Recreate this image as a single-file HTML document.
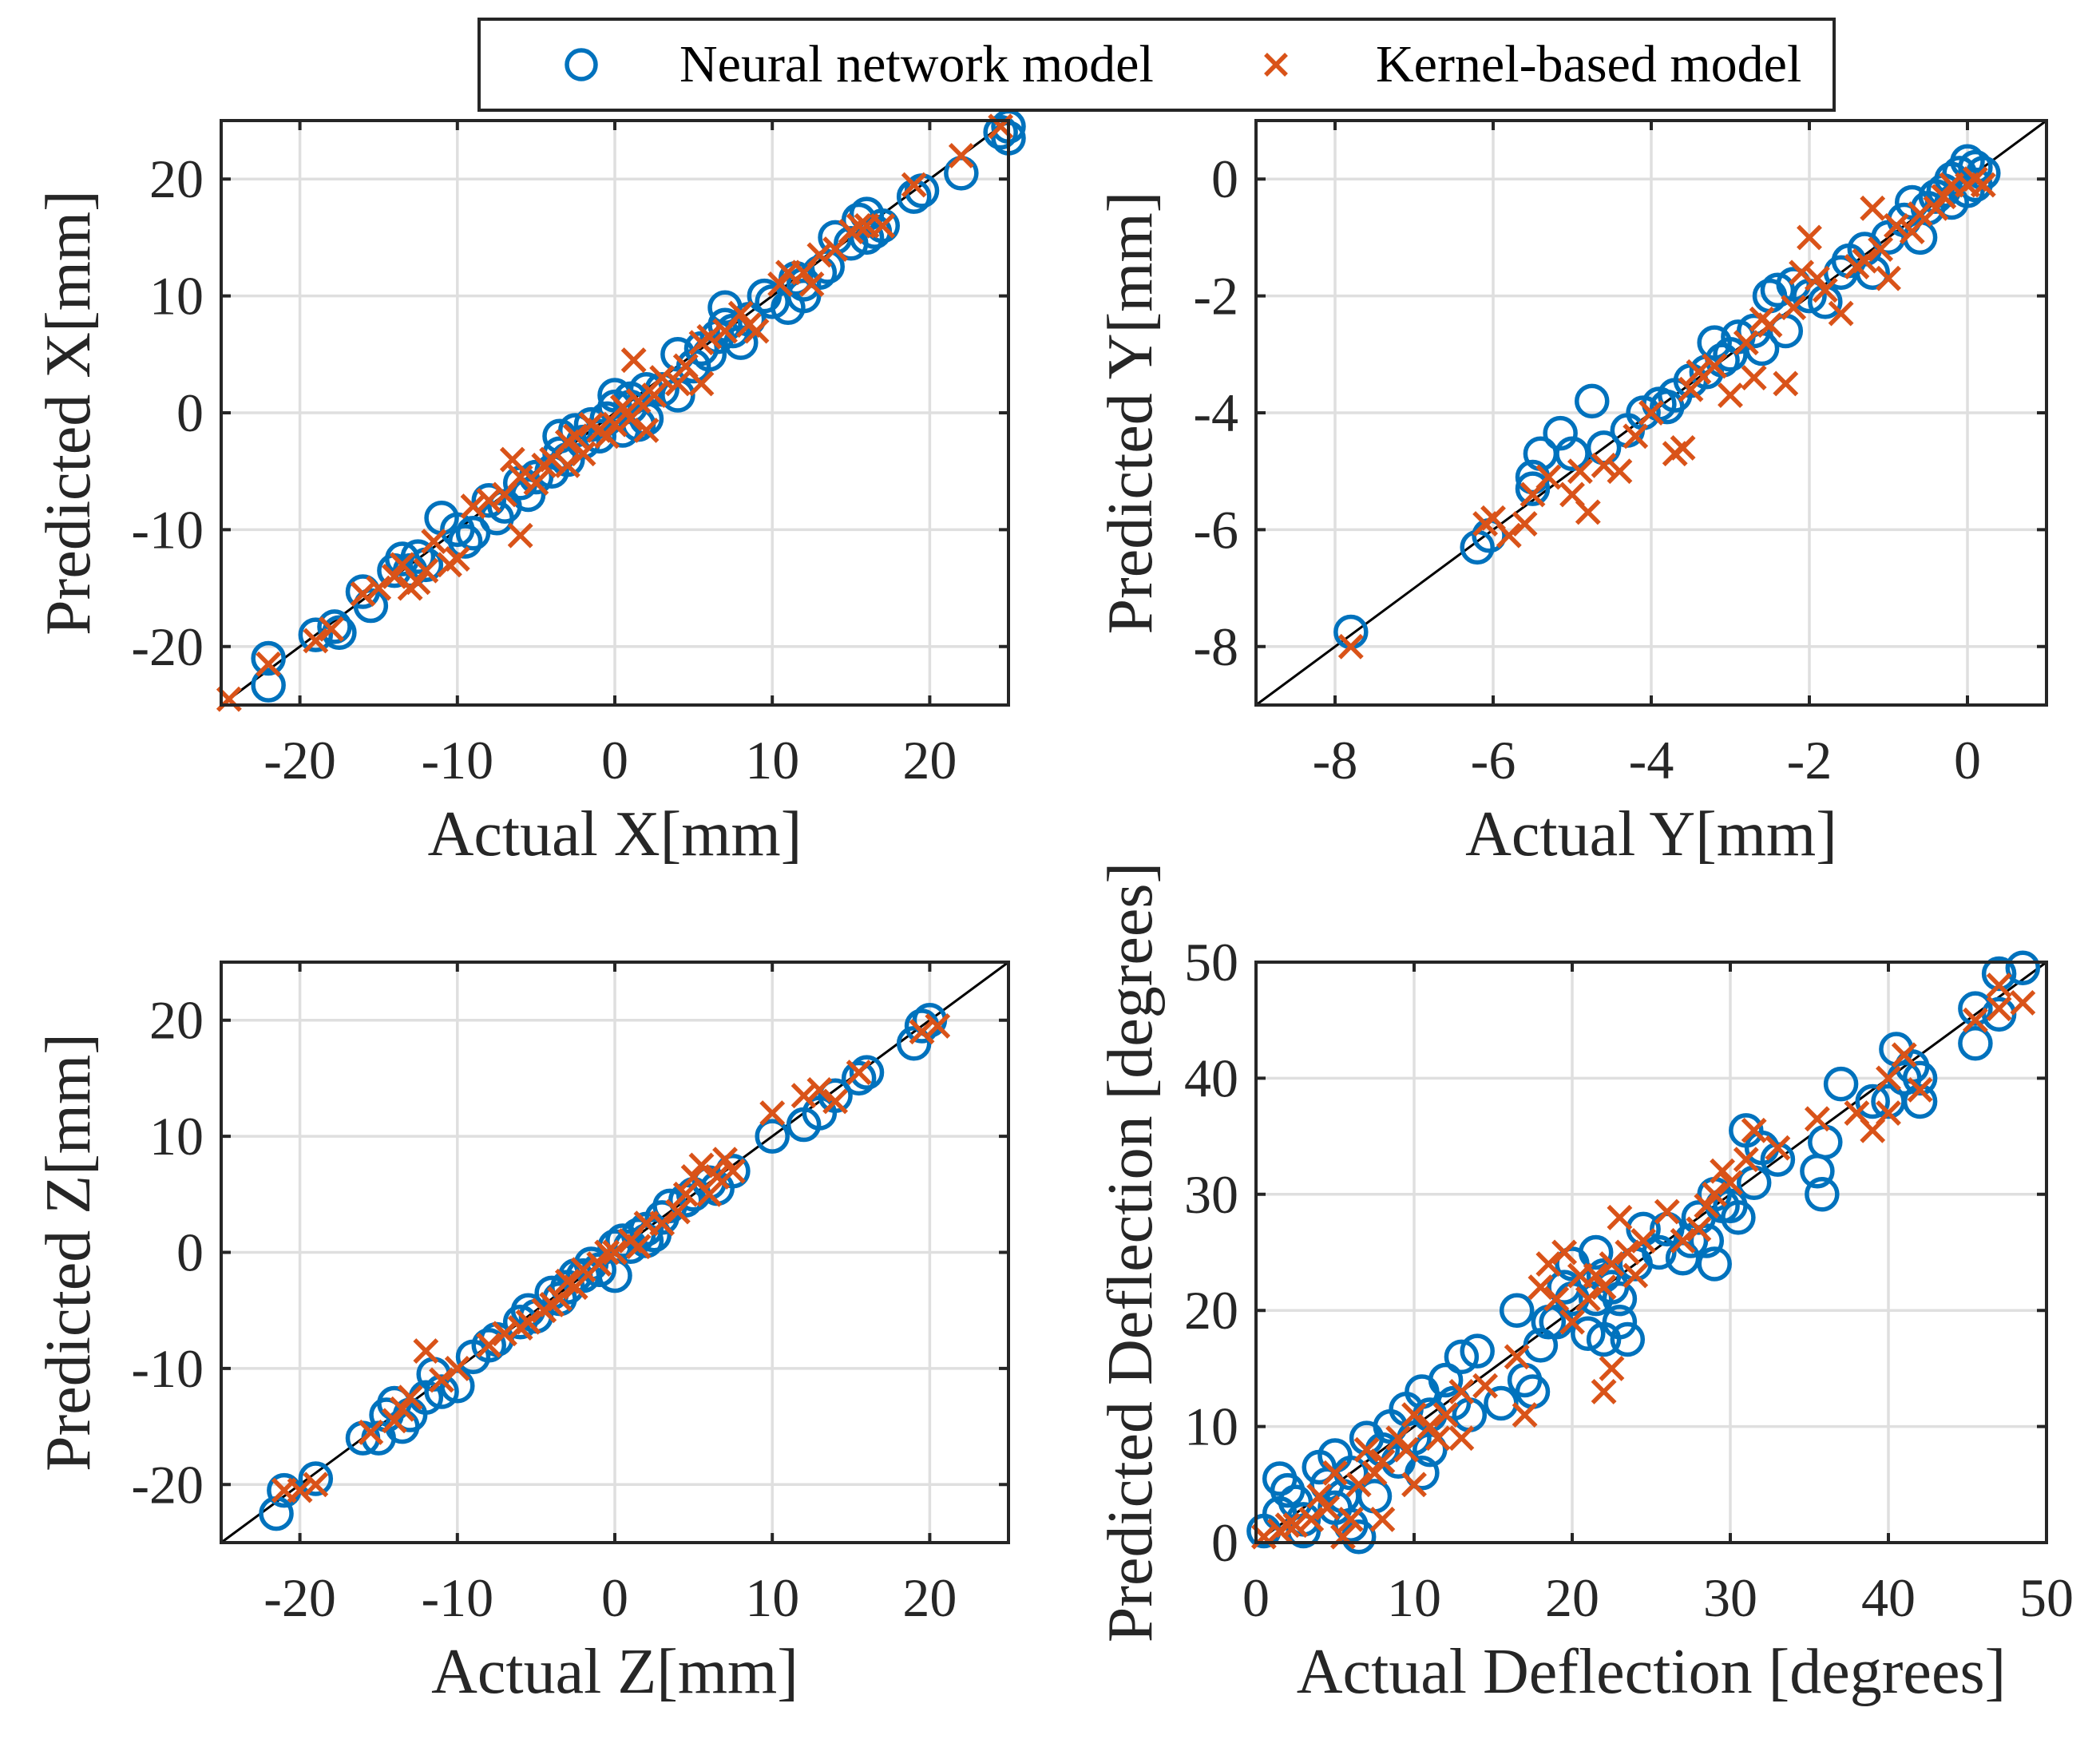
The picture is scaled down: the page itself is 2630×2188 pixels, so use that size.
<!DOCTYPE html>
<html><head><meta charset="utf-8"><style>
html,body{margin:0;padding:0;background:#fff;}
svg{display:block;font-family:"Liberation Serif",serif;}
</style></head><body>
<svg id="fig" width="2630" height="2188" viewBox="0 0 2630 2188" xmlns="http://www.w3.org/2000/svg">
<g id="legend">
<rect x="600" y="24" width="1697" height="114" fill="#fff" stroke="#262626" stroke-width="4"/>
<circle cx="728" cy="81" r="18" fill="none" stroke="#0072BD" stroke-width="5.5"/>
<text x="851" y="102" font-size="66" fill="#000">Neural network model</text>
<g stroke="#D95319" stroke-width="5.5"><line x1="1585" y1="68" x2="1611" y2="94"/><line x1="1585" y1="94" x2="1611" y2="68"/></g>
<text x="1723" y="102" font-size="66" fill="#000">Kernel-based model</text>
</g>
</svg>
<script>
// Panel X
const xNN=[[-22,-21],[-22,-23.3],[-19,-19],[-17.8,-18.3],[-17.5,-18.8],[-16,-15.3],[-15.5,-16.5],[-14,-13.5],[-13.5,-12.5],[-13,-13.5],[-12.5,-12.3],[-12,-13],[-11,-9],[-10,-10],[-9.5,-11],[-9,-10.3],[-7.5,-9],[-8,-7.5],[-7,-8],[-6,-6],[-5.5,-7],[-5,-5.5],[-4,-5],[-3.5,-3.5],[-3.5,-2],[-3,-4],[-2.5,-1.5],[-2,-2.5],[-1.5,-1],[-1,-2],[-0.5,-0.5],[0,0.5],[0,1.5],[0.5,-1.5],[1,0.5],[1.5,-1],[1,1.2],[2,2],[2,-0.5],[3,2],[4,1.5],[4,5],[5,4],[5.5,5.5],[6,5],[6.5,6.5],[7,7.5],[7,9],[7.5,7],[8,6],[8.5,8],[9.5,10],[10,9.5],[11,9],[11.5,11.5],[12,11],[12,10],[13,12],[13.5,12.5],[14,15],[15,14.5],[15.5,16.5],[16,17],[16.5,15.5],[17,16],[16,15],[19,18.5],[19.5,19],[22,20.5],[24.5,24],[25,24.5],[25,23.5]];
const xKB=[[-24.5,-24.5],[-22,-21.5],[-19,-19.5],[-18,-18.5],[-16,-15.5],[-15,-15],[-14,-14],[-13,-15],[-13.5,-13],[-12.5,-14.5],[-12,-13.5],[-11.5,-11],[-10.5,-13],[-10,-12.5],[-9,-8],[-8,-7.5],[-7,-7],[-6,-10.5],[-6.5,-4],[-6,-5.5],[-5,-6],[-4.5,-4.5],[-4,-4],[-3,-4.5],[-3,-2.5],[-2.5,-2],[-2,-3.5],[-1.5,-1],[-1,-1.5],[-0.5,-2],[0,-1],[0.5,0.5],[1,-0.5],[1.2,4.5],[1.5,1],[2,-1.5],[2.5,1.5],[3,3],[4,2.5],[4.5,4],[5.5,2.5],[5.5,6],[6,6.5],[7,7],[8,8.5],[8.5,7.5],[9,7],[10.5,11],[11,12],[12,12],[12.5,11],[13,13.5],[14,14],[15,15.5],[15.5,16],[16,16],[17,16],[19,19.5],[22,22],[24.5,24.5]];
const xTicks=[-20,-10,0,10,20];
// Panel Y
const yNN=[[-7.8,-7.75],[-6.2,-6.3],[-6.05,-6.1],[-5.5,-5.3],[-5.5,-5.1],[-5.4,-4.7],[-5.15,-4.35],[-5.0,-4.7],[-4.75,-3.8],[-4.6,-4.6],[-4.3,-4.3],[-4.1,-4.0],[-3.9,-3.85],[-3.7,-3.7],[-3.5,-3.45],[-3.3,-3.3],[-3.2,-2.8],[-3.1,-3.1],[-3.0,-3.0],[-2.9,-2.7],[-2.7,-2.6],[-2.5,-2.0],[-2.4,-1.9],[-2.2,-1.8],[-2.0,-2.0],[-1.8,-2.1],[-1.6,-1.6],[-1.5,-1.4],[-1.3,-1.2],[-1.2,-1.6],[-1.0,-1.0],[-0.8,-0.7],[-0.6,-1.0],[-0.5,-0.5],[-0.4,-0.3],[-0.3,-0.2],[-0.2,0],[-0.1,0.1],[0,0.3],[0.1,0.2],[0.1,-0.1],[0.2,0.1],[0,-0.2],[-0.2,-0.4],[-2.3,-2.6],[-2.6,-2.9],[-3.8,-3.9],[-0.7,-0.4]];
const yKB=[[-7.8,-8.0],[-6.1,-5.9],[-6.0,-5.8],[-5.8,-6.1],[-5.6,-5.9],[-5.5,-5.4],[-5.3,-5.1],[-5.0,-5.4],[-4.8,-5.7],[-4.6,-4.9],[-4.4,-5.0],[-4.2,-4.4],[-4.0,-4.0],[-3.7,-4.7],[-3.6,-4.6],[-3.5,-3.6],[-3.2,-3.2],[-3.0,-3.7],[-2.7,-3.4],[-2.3,-3.5],[-2.5,-2.5],[-2.2,-2.2],[-2.1,-1.6],[-2.0,-1.0],[-1.8,-1.9],[-1.6,-2.3],[-1.4,-1.5],[-1.3,-1.4],[-1.1,-1.2],[-1.0,-1.7],[-0.9,-0.8],[-0.7,-0.9],[-0.6,-0.6],[-0.4,-0.5],[-0.3,-0.3],[-0.2,-0.1],[0,-0.1],[0.1,0],[0.2,-0.1],[-2.8,-2.8],[-3.4,-3.3],[-4.9,-5.0],[-1.2,-0.5],[-2.6,-2.4],[-1.9,-1.7]];
const yTicks=[-8,-6,-4,-2,0];
// Panel Z
const zNN=[[-21.5,-22.5],[-21,-20.5],[-19,-19.5],[-16,-16],[-15,-16],[-14.5,-14],[-14,-13],[-13.5,-15],[-13,-14],[-12,-12.5],[-11.5,-10.5],[-11,-12],[-10,-11.5],[-9,-9],[-8,-8],[-7.5,-7.5],[-6,-6],[-5.5,-5],[-5,-5.5],[-4,-3.5],[-3.5,-4],[-3,-3],[-2,-2],[-1.5,-1],[-1,-1.5],[0,-2],[0,0.5],[0.5,1],[1,0.5],[1.5,1.5],[2,2],[2.5,1.5],[3,3],[3.5,4],[4.5,4.5],[5,5],[6,6],[6.5,5.5],[7.5,7],[10,10],[12,11],[13,12],[14,13.5],[15.5,15],[16,15.5],[19,18],[19.5,19.5],[20,20],[-2.5,-2],[2,1]];
const zKB=[[-21,-20.5],[-20,-20.5],[-19,-20],[-15.5,-15.5],[-14,-14.5],[-13.5,-13.5],[-13,-12.5],[-12,-8.5],[-11,-11],[-10,-10],[-8,-8],[-7,-7],[-6,-6.5],[-5.5,-6],[-4.5,-5],[-4,-4.5],[-3.5,-4],[-3,-2.5],[-2.5,-3],[-2,-1.5],[-1,-1],[-0.5,0],[0,0],[1,1],[1.5,0.5],[2,2.5],[3,2.5],[4,3.5],[4.5,5],[5,6.5],[6,5],[6.5,6.5],[7,8],[7.5,7],[10,12],[12,13.5],[13,14],[14,13],[15.5,15.5],[19.5,19],[20.5,19.5],[5.5,7.5]];
const zTicks=[-20,-10,0,10,20];
// Panel Deflection
const dNN=[[0.5,1],[1.5,5.5],[1.5,2.5],[2,4.5],[2.5,3.5],[3,1],[3,2],[4,6.5],[4.5,5],[5,7.5],[5,3],[5.5,4],[6,6],[6.5,0.5],[6,1.5],[7,9],[7.5,4],[8,8],[8.5,10],[9,7],[9.5,11.5],[10,9],[10.5,13],[10.5,6],[11,8],[11,11],[12,14],[12.5,12],[13,16],[13.5,11],[14,16.5],[15.5,12],[16.5,20],[17,14],[17.5,13],[18,17],[18.5,19],[19,19],[19.5,22],[20,21],[20,24],[21,18],[21.5,25],[21.5,21],[22,17.5],[22,23],[22.5,22],[23,21],[23,19],[23.5,17.5],[24,24],[24.5,27],[25.5,25],[26,27],[27,24.5],[27.5,26],[28,28],[28.5,26],[29,24],[29,30],[29.5,29],[30,29],[30.5,28],[31,35.5],[31.5,31],[32,34],[33,33],[35.5,32],[35.8,30],[36,34.5],[37,39.5],[39,38],[40,38],[40.5,42.5],[41,40],[41.5,41],[42,38],[42,40],[45.5,46],[45.5,43],[47,49],[48.5,49.5],[47,45.5]];
const dKB=[[0.5,0.5],[1.5,1],[2,1.5],[2.5,1.5],[3.5,2],[4,4],[4.5,3],[5,6],[5.5,0.5],[6,2],[6.5,5],[7,8],[7.5,6],[8,2],[8,7],[9,9],[9.5,8],[10,5],[10,11],[11,10],[11.5,9],[12,11],[13,9],[13,13],[14.5,13.5],[16.5,16],[17,11],[18,22],[18.5,24],[19,21],[19.5,25],[20,19],[20.5,23],[21,21],[21.5,23],[22,13],[22,22],[22.5,15],[22.5,24],[23,28],[23.5,25],[24,23],[24.5,26],[26,28.5],[27,26],[28,27],[28.5,29],[29,30],[29.5,32],[30,31],[31,33],[31.5,35.5],[33,34],[35.5,36.5],[38,37],[39,35.5],[40,40],[40,37],[41,42],[42,39],[45.5,45],[47,48],[47,46],[48.5,46.5]];
const dTicks=[0,10,20,30,40,50];

const NS="http://www.w3.org/2000/svg";
const svg=document.getElementById('fig');
function mk(tag,attrs,parent){const e=document.createElementNS(NS,tag);for(const k in attrs)e.setAttribute(k,attrs[k]);parent.appendChild(e);return e;}

function panel(name,box,lim,ticks,nn,kb,xlabel,ylabel,ylabelX){
  const [L,T,R,B]=box;
  const g=mk('g',{},svg);
  
  
  const sx=v=>L+(v-lim[0])/(lim[1]-lim[0])*(R-L);
  const sy=v=>B-(v-lim[0])/(lim[1]-lim[0])*(B-T);
  mk('rect',{x:L,y:T,width:R-L,height:B-T,fill:'#fff'},g);
  ticks.forEach(t=>{
    const gx=mk('line',{x1:sx(t),x2:sx(t),y1:T,y2:B,stroke:'#dfdfdf','stroke-width':3.5},g);
    
    
    const gy=mk('line',{x1:L,x2:R,y1:sy(t),y2:sy(t),stroke:'#dfdfdf','stroke-width':3.5},g);
    
    
  });
  const dg=mk('line',{x1:sx(lim[0]),y1:sy(lim[0]),x2:sx(lim[1]),y2:sy(lim[1]),stroke:'#000','stroke-width':3},g);
  
  
  nn.forEach(p=>{
    const c=mk('circle',{cx:sx(p[0]),cy:sy(p[1]),r:19,fill:'none',stroke:'#0072BD','stroke-width':5.5},g);
    
    
  });
  kb.forEach(p=>{
    const x=sx(p[0]),y=sy(p[1]),s=14;
    const m=mk('path',{d:`M${x-s},${y-s}L${x+s},${y+s}M${x-s},${y+s}L${x+s},${y-s}`,stroke:'#D95319','stroke-width':5.5,fill:'none'},g);
    
    
  });
  const bx=mk('rect',{x:L,y:T,width:R-L,height:B-T,fill:'none',stroke:'#262626','stroke-width':4},g);
  
  
  ticks.forEach(t=>{
    mk('path',{d:`M${sx(t)},${B}v-12M${sx(t)},${T}v12M${L},${sy(t)}h12M${R},${sy(t)}h-12`,stroke:'#262626','stroke-width':4},g);
    const tx=mk('text',{x:sx(t),y:B+92,'font-size':68,'text-anchor':'middle',fill:'#262626'},g);
    tx.textContent=(t<0?'-':'')+Math.abs(t);
    
    
    const ty=mk('text',{x:L-22,y:sy(t)+23,'font-size':68,'text-anchor':'end',fill:'#262626'},g);
    ty.textContent=(t<0?'-':'')+Math.abs(t);
    
    
  });
  const xl=mk('text',{x:(L+R)/2,y:B+188,'font-size':80,'text-anchor':'middle',fill:'#262626'},g);
  xl.textContent=xlabel;
  
  
  const cy=(T+B)/2;
  const yl=mk('text',{x:ylabelX,y:cy,'font-size':80,'text-anchor':'middle',fill:'#262626',transform:`rotate(-90 ${ylabelX} ${cy})`},g);
  yl.textContent=ylabel;
  
  
}
const legend=document.getElementById('legend');
panel('x',[277,151,1263,883],[-25,25],xTicks,xNN,xKB,'Actual X[mm]','Predicted X[mm]',112);
panel('y',[1573,151,2563,883],[-9,1],yTicks,yNN,yKB,'Actual Y[mm]','Predicted Y[mm]',1442);
panel('z',[277,1205,1263,1932],[-25,25],zTicks,zNN,zKB,'Actual Z[mm]','Predicted Z[mm]',112);
panel('deflection',[1573,1205,2563,1932],[0,50],dTicks,dNN,dKB,'Actual Deflection [degrees]','Predicted Deflection [degrees]',1442);
svg.appendChild(legend);
</script>
</body></html>
